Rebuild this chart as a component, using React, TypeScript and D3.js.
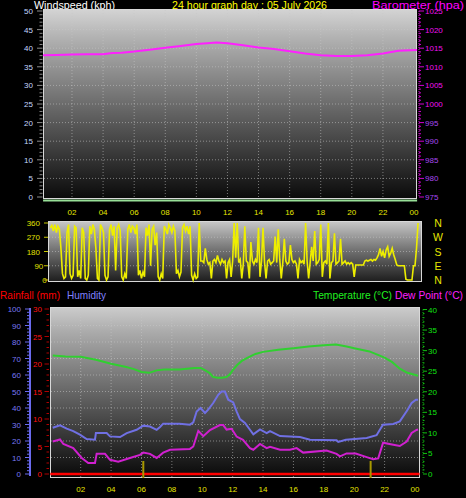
import React from "react";
import * as d3 from "d3";

const W = 466;
const H = 498;

// ---------- tick labels ----------
const hourTicks = [2, 4, 6, 8, 10, 12, 14, 16, 18, 20, 22, 24];
const hourTickLabels = ["02", "04", "06", "08", "10", "12", "14", "16", "18", "20", "22", "00"];
const windTicks = [0, 5, 10, 15, 20, 25, 30, 35, 40, 45, 50];
const baroTicks = [975, 980, 985, 990, 995, 1000, 1005, 1010, 1015, 1020, 1025];
const dirTicks = [0, 90, 180, 270, 360];
const compassLabels = ["N", "E", "S", "W", "N"];
const humTicks = [0, 10, 20, 30, 40, 50, 60, 70, 80, 90, 100];
const rainTicks = [0, 5, 10, 15, 20, 25, 30];
const tempTicks = [0, 5, 10, 15, 20, 25, 30, 35, 40];

// ---------- series ----------
const baroHours = [0.14, 1, 2, 3, 4, 4.6, 5.2, 6, 7, 8, 9, 10, 10.7, 11.3, 12, 13, 14, 15, 16, 17, 18, 19, 20, 21, 22, 23, 24.2];
const baroValues = [1013.1, 1013.2, 1013.3, 1013.4, 1013.4, 1013.7, 1013.8, 1014.1, 1014.6, 1015.1, 1015.6, 1016.1, 1016.3, 1016.5, 1016.3, 1015.8, 1015.2, 1014.8, 1014.2, 1013.6, 1013.1, 1012.9, 1012.9, 1013.1, 1013.6, 1014.3, 1014.5];

const windHours = [0.14, 24.2];
const windValues = [0, 0];

// wind direction, one reading every 0.1 h starting at 00:00
const dirStep = 0.1;
const dirValues = [
  330, 345, 310, 350, 300, 340, 320, 200, 40, 10, 20, 300, 350, 40, 10, 30, 340, 330, 20, 60,
  10, 330, 300, 10, 0, 30, 340, 290, 350, 320, 200, 10, 0, 350, 330, 300, 30, 0, 20, 320,
  350, 280, 340, 60, 330, 350, 310, 20, 0, 40, 10, 320, 350, 300, 340, 330, 290, 350, 30, 60,
  10, 50, 20, 330, 280, 350, 90, 320, 340, 220, 300, 20, 0, 40, 10, 340, 320, 290, 350, 330,
  300, 340, 310, 40, 60, 20, 50, 330, 350, 310, 340, 290, 340, 30, 0, 40, 10, 20, 360, 120,
  120, 110, 200, 130, 100, 110, 10, 120, 130, 110, 155, 120, 100, 130, 110, 120, 10, 110, 130, 20,
  120, 360, 140, 360, 110, 130, 10, 100, 340, 120, 110, 10, 240, 120, 100, 130, 110, 330, 20, 120,
  330, 110, 10, 120, 130, 100, 110, 120, 275, 110, 320, 130, 10, 110, 260, 120, 100, 110, 220, 130,
  110, 120, 100, 10, 130, 110, 120, 100, 360, 120, 10, 110, 210, 120, 310, 100, 110, 130, 350, 20,
  110, 120, 100, 360, 10, 110, 120, 295, 100, 110, 120, 260, 100, 110, 120, 100, 110, 100, 110, 100,
  20, 95, 95, 95, 95, 95, 95, 120, 125, 120, 125, 130, 120, 130, 125, 140, 160, 200, 150, 180,
  140, 190, 210, 150, 170, 200, 160, 130, 95, 90, 90, 90, 90, 90, 5, 0, 0, 0, 0, 90,
  90, 200, 360,
];

const tempHours = [0.16, 1, 2, 3, 4, 5, 5.5, 6, 6.5, 7, 7.5, 8, 8.5, 9, 9.5, 9.9, 10.2, 10.5, 10.7, 11, 11.3, 11.6, 11.8, 12, 12.3, 12.6, 13, 13.5, 14, 15, 16, 17, 18, 18.8, 19.5, 20, 21, 22, 22.5, 23, 23.5, 24.2];
const tempValues = [28.8, 28.6, 28.5, 27.8, 26.8, 26.0, 25.5, 24.8, 24.6, 25.2, 25.4, 25.4, 25.4, 25.6, 25.8, 25.8, 25.2, 24.5, 23.6, 23.4, 23.4, 23.6, 24.2, 25.2, 26.5, 27.5, 28.3, 29.2, 29.7, 30.2, 30.6, 31.0, 31.3, 31.5, 31.0, 30.6, 29.8, 28.3, 27.2, 25.6, 24.6, 23.9];

const humHours = [0.16, 0.64, 1.08, 1.51, 1.95, 2.39, 2.94, 3.0, 3.71, 3.93, 4.59, 5.03, 5.68, 6.12, 6.56, 7.0, 7.22, 7.43, 8.5, 9.19, 9.41, 9.63, 9.89, 10.18, 10.39, 10.72, 11.05, 11.28, 11.49, 11.71, 12.04, 12.26, 12.48, 12.81, 13.14, 13.36, 13.8, 14.24, 14.46, 15.12, 16.43, 17.09, 18.84, 18.95, 19.45, 20.82, 21.47, 21.89, 22.57, 23.0, 23.45, 23.78, 24.06, 24.2];
const humValues = [28, 29.5, 27.5, 26, 23.8, 21.2, 20.8, 24.8, 24.8, 22.8, 22.4, 24.8, 26.8, 29.3, 28.8, 26.8, 28.5, 30.5, 30.5, 29.9, 31.3, 37.9, 40, 37, 39, 43, 48, 50, 50, 45, 43.4, 38, 33.3, 31, 26.8, 24, 27, 24.8, 26, 23, 22.4, 20.8, 20.4, 19.4, 20.8, 21.8, 23.5, 29.9, 30.3, 31.9, 38, 43, 45, 45];

const dewHours = [0.16, 0.64, 0.86, 1.51, 2.07, 2.5, 2.94, 3.05, 3.6, 3.93, 4.47, 5.24, 5.9, 6.12, 6.56, 7.0, 7.43, 7.88, 9.19, 9.41, 9.74, 10.07, 10.51, 11.16, 11.38, 11.6, 11.93, 12.26, 12.68, 13.14, 13.36, 13.8, 14.24, 14.46, 15.12, 15.77, 16.21, 16.64, 18.18, 18.84, 19.06, 19.5, 20.1, 20.82, 21.25, 21.58, 21.9, 22.57, 23.0, 23.45, 23.78, 24.1, 24.2];
const dewValues = [7.9, 8.4, 7.3, 6.3, 3.9, 2.65, 2.65, 4.9, 4.9, 3.45, 3.0, 3.9, 4.65, 5.2, 4.9, 3.9, 5.2, 5.9, 6.1, 6.7, 10.5, 9.2, 10.7, 11.9, 11.9, 10.8, 11.0, 9.1, 8.3, 6.3, 5.9, 7.3, 6.3, 6.6, 5.9, 5.9, 6.3, 5.2, 5.7, 4.9, 4.3, 5.0, 5.0, 4.1, 3.6, 3.8, 7.6, 7.1, 6.8, 7.9, 10.0, 10.7, 10.8];

const rainHours = [0.0, 24.3];
const rainValues = [0, 0];

const sunMarkerHours = [6.12, 21.08];

// ---------- layout ----------
const FONT = "'Liberation Sans', Arial, sans-serif";

const topPanel = { x0: 43, x1: 417, y0: 9, y1: 199 };
const midPanel = { x0: 48, x1: 422, y0: 221, y1: 282 };
const botPanel = { x0: 50, x1: 420, y0: 307, y1: 478 };

const xTop = d3.scaleLinear().domain([0, 24]).range([40.9, 414]);
const yWind = d3.scaleLinear().domain([0, 50]).range([197, 11]);
const yBaro = d3.scaleLinear().domain([975, 1025]).range([197, 11]);

const xMid = d3.scaleLinear().domain([0, 24]).range([50.3, 415]);
const yDir = d3.scaleLinear().domain([0, 360]).range([280, 223]);

const xBot = d3.scaleLinear().domain([0, 24]).range([50.3, 415]);
const yHum = d3.scaleLinear().domain([0, 100]).range([474, 309]);
const yRain = d3.scaleLinear().domain([0, 30]).range([474, 309]);
const yTemp = d3.scaleLinear().domain([0, 40]).range([474, 309.5]);

function pathOf(hours: number[], values: number[], x: any, y: any) {
  const pts = hours.map((h, i) => [h, values[i]] as [number, number]);
  return d3.line<[number, number]>().x((d) => x(d[0])).y((d) => y(d[1]))(pts) || "";
}

function Panel({ p, grad }: { p: any; grad: string }) {
  return (
    <g>
      <rect x={p.x0} y={p.y0} width={p.x1 - p.x0} height={p.y1 - p.y0} fill={`url(#${grad})`} />
      <rect x={p.x0 + 0.5} y={p.y0 + 0.5} width={p.x1 - p.x0 - 1} height={p.y1 - p.y0 - 1} fill="none" stroke="#d8d8d8" strokeWidth={1} />
    </g>
  );
}

const gridStyle = { stroke: "#c8c8c8", strokeWidth: 1, strokeDasharray: "1,2", opacity: 0.55 };

export default function App() {
  const dirHours = dirValues.map((_, i) => i * dirStep);
  const baroPath = pathOf(baroHours, baroValues, xTop, yBaro);
  const windPath = pathOf(windHours, windValues, xTop, yWind);
  const dirPath = pathOf(dirHours, dirValues, xMid, yDir);
  const tempPath = pathOf(tempHours, tempValues, xBot, yTemp);
  const humPath = pathOf(humHours, humValues, xBot, yHum);
  const dewPath = pathOf(dewHours, dewValues, xBot, yTemp);
  const rainPath = pathOf(rainHours, rainValues, xBot, yRain);

  const windMinor = d3.range(0, 51, 1);
  const baroMinor = d3.range(975, 1026, 1);
  const humMinor = d3.range(0, 101, 2);
  const rainMinor = d3.range(0, 31, 1);
  const tempMinor = d3.range(0, 41, 1);

  return (
    <svg width={W} height={H} style={{ display: "block", position: "absolute", left: 0, top: 0, background: "#000" }} fontFamily={FONT}>
      <defs>
        <linearGradient id="gTop" x1="0" y1="0" x2="0" y2="1">
          <stop offset="0%" stopColor="#d4d4d4" />
          <stop offset="15%" stopColor="#b2b2b2" />
          <stop offset="50%" stopColor="#6c6c6c" />
          <stop offset="100%" stopColor="#0a0a0a" />
        </linearGradient>
        <linearGradient id="gMid" x1="0" y1="0" x2="0" y2="1">
          <stop offset="0%" stopColor="#c8c8c8" />
          <stop offset="50%" stopColor="#6e6e6e" />
          <stop offset="100%" stopColor="#1c1c1c" />
        </linearGradient>
        <linearGradient id="gBot" x1="0" y1="0" x2="0" y2="1">
          <stop offset="0%" stopColor="#cccccc" />
          <stop offset="15%" stopColor="#aaaaaa" />
          <stop offset="50%" stopColor="#666666" />
          <stop offset="100%" stopColor="#080808" />
        </linearGradient>
      </defs>
      <rect x={0} y={0} width={W} height={H} fill="#000" />

      {/* header */}
      <text x={34} y={9.4} fontSize={10.5} fill="#ffffff" textLength={81} lengthAdjust="spacingAndGlyphs">Windspeed (kph)</text>
      <text x={172} y={9.4} fontSize={10.5} fill="#ffff00" textLength={155} lengthAdjust="spacingAndGlyphs">24 hour graph day : 05 July 2026</text>
      <text x={372} y={9.4} fontSize={10.5} fill="#ff00ff" textLength={92} lengthAdjust="spacingAndGlyphs">Barometer (hpa)</text>

      {/* ===== top panel ===== */}
      <Panel p={topPanel} grad="gTop" />
      {windTicks.filter((t) => t > 0 && t < 50).map((t) => (
        <line key={"tg" + t} x1={topPanel.x0 + 1} x2={topPanel.x1 - 1} y1={yWind(t)} y2={yWind(t)} {...gridStyle} />
      ))}
      {hourTicks.filter((h) => h < 24).map((h) => (
        <line key={"tv" + h} x1={xTop(h)} x2={xTop(h)} y1={topPanel.y0 + 1} y2={topPanel.y1 - 1} {...gridStyle} />
      ))}
      {windMinor.map((t) => (
        <line key={"wm" + t} x1={t % 5 === 0 ? 37 : 39.5} x2={42.5} y1={yWind(t)} y2={yWind(t)} stroke="#8a8a8a" strokeWidth={1} />
      ))}
      {windTicks.map((t) => (
        <text key={"wl" + t} x={33} y={yWind(t) + 3} fontSize={8} fill="#c4d8ff" textAnchor="end">{t}</text>
      ))}
      <line x1={419} x2={419} y1={yBaro(1025)} y2={yBaro(975)} stroke="#d000d0" strokeWidth={1} strokeDasharray="1,1" />
      {baroMinor.map((t) => (
        <line key={"bm" + t} x1={419} x2={t % 5 === 0 ? 424 : 421} y1={yBaro(t)} y2={yBaro(t)} stroke="#d000d0" strokeWidth={1} />
      ))}
      {baroTicks.map((t) => (
        <text key={"bl" + t} x={425} y={yBaro(t) + 3} fontSize={8} fill={t >= 1000 ? "#f010f0" : "#a848f0"}>{t}</text>
      ))}
      <path d={baroPath} fill="none" stroke="#ff20ff" strokeWidth={2} />
      <path d={windPath} fill="none" stroke="#98e098" strokeWidth={2} transform="translate(0,3.5)" />
      {hourTicks.map((h, i) => (
        <text key={"xt" + h} x={xTop(h)} y={215} fontSize={8} fill="#e6e600" textAnchor="middle">{hourTickLabels[i]}</text>
      ))}

      {/* ===== middle panel ===== */}
      <Panel p={midPanel} grad="gMid" />
      {dirTicks.filter((t) => t > 0 && t < 360).map((t) => (
        <line key={"dg" + t} x1={midPanel.x0 + 1} x2={midPanel.x1 - 1} y1={yDir(t)} y2={yDir(t)} {...gridStyle} />
      ))}
      {dirTicks.map((t) => (
        <line key={"dt" + t} x1={44} x2={48} y1={yDir(t)} y2={yDir(t)} stroke="#c8c800" strokeWidth={1} />
      ))}
      {dirTicks.map((t) => (
        <text key={"dl" + t} x={40 + (3 - String(t).length) * 3.3} y={yDir(t) + 3} fontSize={8} fill="#e0e000" textAnchor="end">{t}</text>
      ))}
      {dirTicks.map((t, i) => (
        <text key={"cl" + t} x={438} y={yDir(t) + 4} fontSize={10.5} fill="#e6e600" textAnchor="middle">{compassLabels[i]}</text>
      ))}
      <path d={dirPath} fill="none" stroke="#eeee00" strokeWidth={1.6} strokeLinejoin="miter" />

      {/* legend row */}
      <text x={0} y={298.5} fontSize={10.5} fill="#ff0000" textLength={60} lengthAdjust="spacingAndGlyphs">Rainfall (mm)</text>
      <text x={67} y={298.5} fontSize={10.5} fill="#8080ff" textLength={39} lengthAdjust="spacingAndGlyphs">Humidity</text>
      <text x={313} y={298.5} fontSize={10.5} fill="#20f020" textLength={79} lengthAdjust="spacingAndGlyphs">Temperature (°C)</text>
      <text x={395} y={298.5} fontSize={10.5} fill="#ff20ff" textLength={68} lengthAdjust="spacingAndGlyphs">Dew Point (°C)</text>

      {/* ===== bottom panel ===== */}
      <Panel p={botPanel} grad="gBot" />
      {humTicks.filter((t) => t > 0 && t < 100).map((t) => (
        <line key={"hg" + t} x1={botPanel.x0 + 1} x2={botPanel.x1 - 1} y1={yHum(t)} y2={yHum(t)} {...gridStyle} />
      ))}
      {hourTicks.filter((h) => h < 24).map((h) => (
        <line key={"bv" + h} x1={xBot(h)} x2={xBot(h)} y1={botPanel.y0 + 1} y2={botPanel.y1 - 1} {...gridStyle} />
      ))}
      {/* humidity axis */}
      <line x1={30} x2={30} y1={yHum(100) - 1} y2={yHum(0) + 2} stroke="#6a6aee" strokeWidth={2} />
      {humMinor.map((t) => (
        <line key={"hm" + t} x1={t % 10 === 0 ? 25 : 27} x2={30} y1={yHum(t)} y2={yHum(t)} stroke="#6a6aee" strokeWidth={1} />
      ))}
      {humTicks.map((t) => (
        <text key={"hl" + t} x={21} y={yHum(t) + 3} fontSize={8} fill="#7878f4" textAnchor="end">{t}</text>
      ))}
      {/* rain axis */}
      {rainMinor.map((t) => (
        <line key={"rm" + t} x1={t % 5 === 0 ? 44.5 : 46.5} x2={49} y1={yRain(t)} y2={yRain(t)} stroke="#b00000" strokeWidth={1} />
      ))}
      {rainTicks.map((t) => (
        <text key={"rl" + t} x={42} y={yRain(t) + 3} fontSize={8} fill="#ff1010" textAnchor="end">{t}</text>
      ))}
      {/* temperature axis */}
      <line x1={423} x2={423} y1={yTemp(40)} y2={yTemp(0)} stroke="#10c010" strokeWidth={1} strokeDasharray="1,1.5" />
      {tempMinor.map((t) => (
        <line key={"tm" + t} x1={423} x2={t % 5 === 0 ? 427 : 424.5} y1={yTemp(t)} y2={yTemp(t)} stroke="#10c010" strokeWidth={1} />
      ))}
      {tempTicks.map((t) => (
        <text key={"tl" + t} x={428} y={yTemp(t) + 3} fontSize={8} fill="#10e010">{t}</text>
      ))}

      <path d={tempPath} fill="none" stroke="#30d030" strokeWidth={2} />
      <path d={humPath} fill="none" stroke="#7070e4" strokeWidth={2} />
      <path d={dewPath} fill="none" stroke="#d020d0" strokeWidth={2} />
      <path d={rainPath} fill="none" stroke="#ff0000" strokeWidth={2.5} />
      {sunMarkerHours.map((h) => (
        <line key={"sm" + h} x1={xBot(h)} x2={xBot(h)} y1={461} y2={478} stroke="#a89800" strokeWidth={2} />
      ))}
      {hourTicks.map((h, i) => (
        <text key={"xb" + h} x={xBot(h)} y={491.7} fontSize={8} fill="#e6e600" textAnchor="middle">{hourTickLabels[i]}</text>
      ))}
    </svg>
  );
}
